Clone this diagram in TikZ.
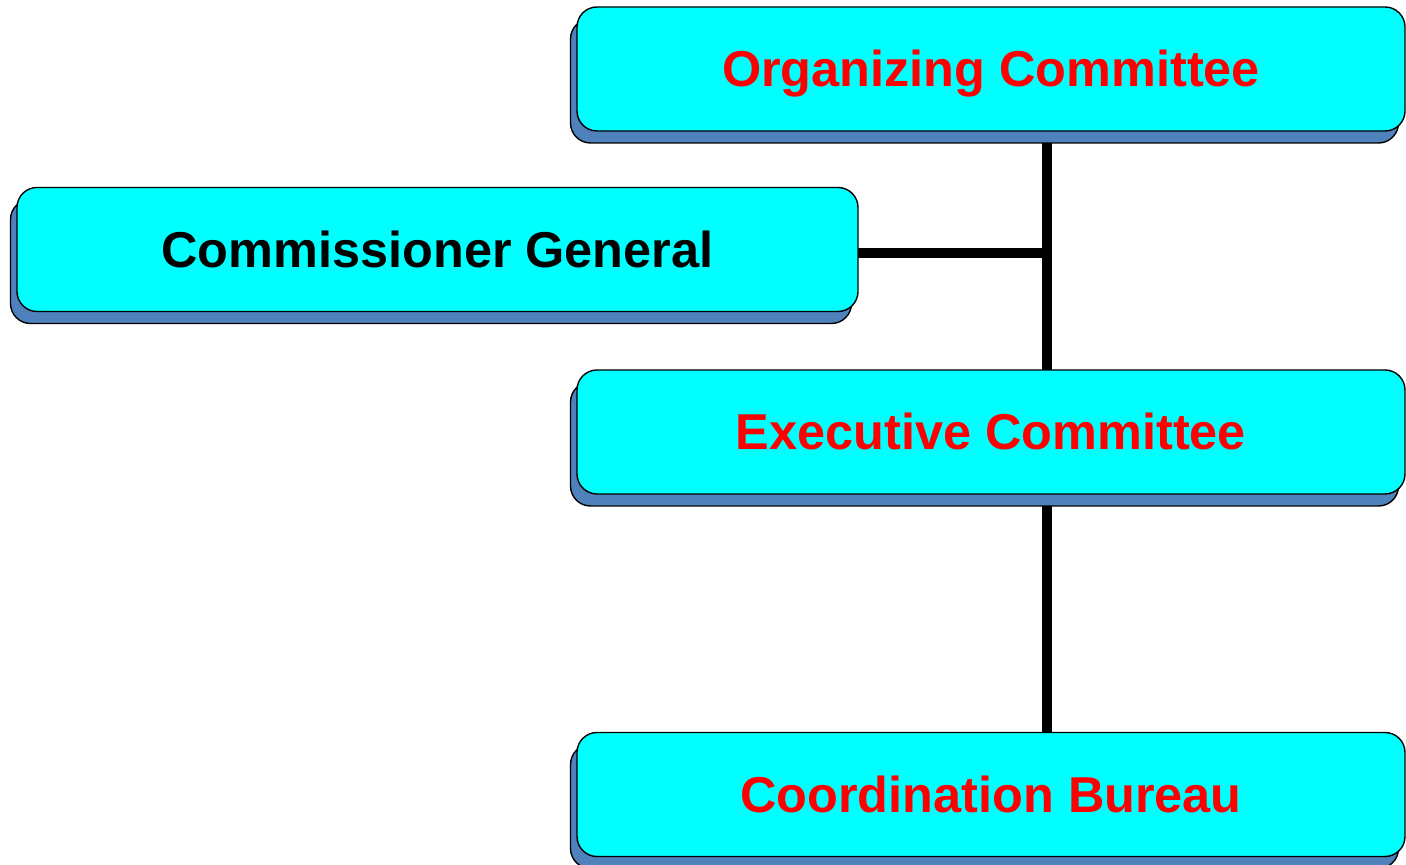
\documentclass[tikz,border=0pt]{standalone}
\usepackage{fontspec}
\setmainfont{Liberation Sans}
\usetikzlibrary{shadows,backgrounds}
\definecolor{boxcyan}{HTML}{00FFFF}
\definecolor{boxshade}{HTML}{4F81BD}
\definecolor{boxred}{HTML}{FF0000}
\begin{document}
\begin{tikzpicture}
		\tikzset{box/.style={rectangle, draw=black, line width=0.8pt, fill=boxcyan, rounded corners=0.4cm, minimum width=16.56cm, minimum height=2.48cm, inner sep=0pt, text height=0.71cm, text depth=0cm, font=\fontsize{28.7}{34}\selectfont\bfseries, copy shadow={shadow xshift=-0.13cm, shadow yshift=-0.24cm, fill=boxshade, draw=black, line width=0.8pt}}};
		\tikzset{link/.style={line width=5.7pt, line cap=rect}};
		\useasboundingbox (0,0) rectangle (28.12,17.3);
		\node[box,text=boxred] (Organizing  ) at (19.82,15.92) {Organizing Committee};
		\node[box,minimum width=16.82cm] (Commissioner) at ( 8.75,12.31) {Commissioner General};
		\node[box,text=boxred] (Executive   ) at (19.82, 8.66) {Executive Committee};
		\node[box,text=boxred] (Coordination) at (19.82, 1.41) {Coordination Bureau};
		\coordinate (Spine) at (20.94,12.24);
		\begin{scope}[on background layer]
		\draw[link] (Organizing  .south -| Spine)--(Executive   .north -| Spine);
		\draw[link] (Executive   .south -| Spine)--(Coordination.north -| Spine);
		\draw[link] (Commissioner.east |- Spine)--(Spine);
		\end{scope}
	\end{tikzpicture}
\end{document}
